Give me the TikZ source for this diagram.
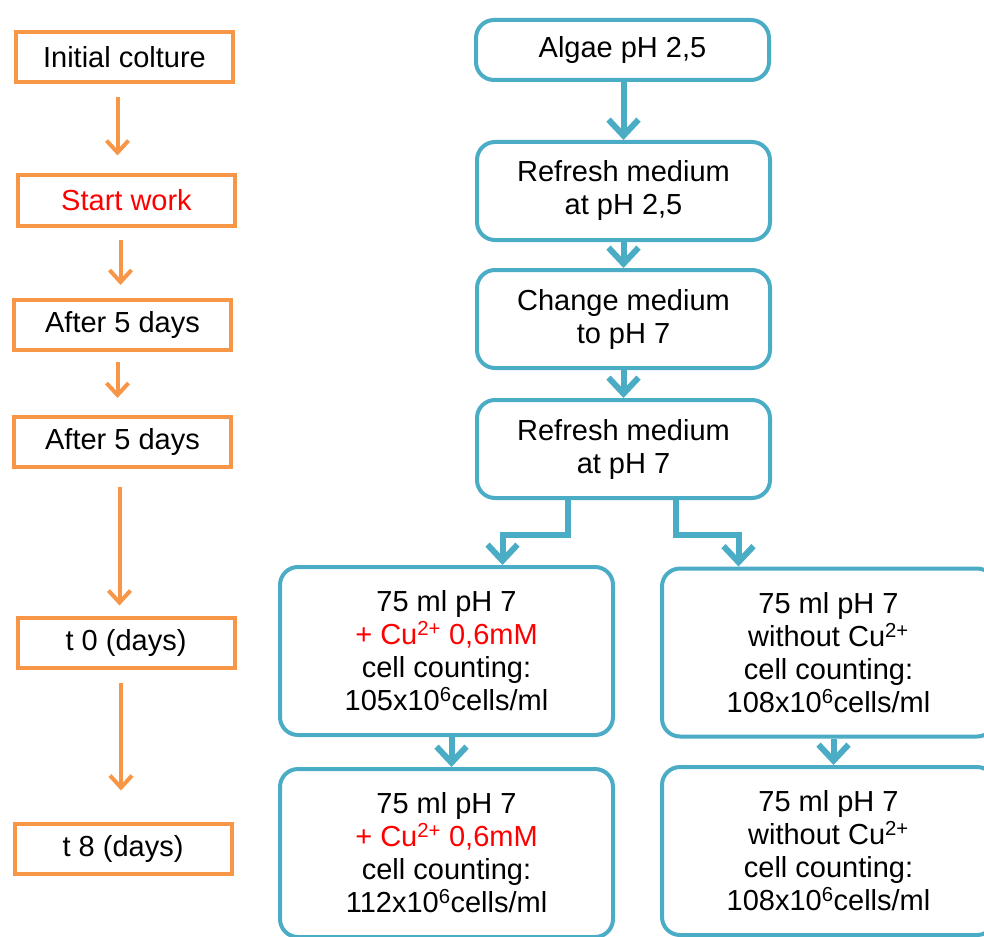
\documentclass[tikz,border=0pt]{standalone}
\usepackage{fontspec}
\setmainfont{Liberation Sans}
\usepackage{xcolor}
\usetikzlibrary{arrows.meta, positioning}
\definecolor{stepor}{HTML}{F79646}
\definecolor{flowbl}{HTML}{4BACC6}
\definecolor{cured}{HTML}{FF0000}

\begin{document}
\begin{tikzpicture}[
  x=1pt, y=-1pt,
  font=\fontsize{29}{33}\selectfont,
  daybox/.style={rectangle, draw=stepor, line width=4pt, fill=white,
                 minimum width=217pt, minimum height=50pt, inner sep=0pt},
  medbox/.style={rectangle, rounded corners=18pt, draw=flowbl, line width=4pt, fill=white,
                 minimum width=293pt, minimum height=98pt, align=center, inner sep=0pt},
  culbox/.style={medbox, minimum width=333pt, minimum height=168pt},
  oarrow/.style={-{Straight Barb[length=12pt, width=22pt]}, line width=4pt, color=stepor},
  barrow/.style={-{Straight Barb[length=16pt, width=30pt]}, line width=6pt, color=flowbl},
]
\useasboundingbox (0,0) rectangle (984,936);
\clip (0,0) rectangle (984,936);

% time line
\node[daybox] (init) at (124.5,57) {Initial colture};
\node[daybox, text=cured] (start) at (126.5,200.5) {Start work};
\node[daybox] (after1) at (122.5,325) {After 5 days};
\node[daybox] (after2) at (122.5,442) {After 5 days};
\node[daybox] (tzero) at (126,642.5) {t 0 (days)};
\node[daybox] (teight) at (123,848.5) {t 8 (days)};

\draw[oarrow, shorten <=13pt, shorten >=18pt] ([xshift=-7pt]init.south) -- ([xshift=-7pt]init.south |- start.north);
\draw[oarrow, shorten <=12pt, shorten >=13pt] ([xshift=-6pt]start.south) -- ([xshift=-6pt]start.south |- after1.north);
\draw[oarrow, shorten <=10pt, shorten >=17pt] ([xshift=-5pt]after1.south) -- ([xshift=-5pt]after1.south |- after2.north);
\draw[oarrow, shorten <=18pt, shorten >=10pt] ([xshift=-3pt]after2.south) -- ([xshift=-3pt]after2.south |- tzero.north);
\draw[oarrow, shorten <=13pt, shorten >=31pt] ([xshift=-5pt]tzero.south) -- ([xshift=-5pt]tzero.south |- teight.north);

% culture steps
\node[medbox, minimum height=60pt] (algae) at (622.5,50) {Algae pH 2,5};
\node[medbox] (refresh1) at (623.5,191) {Refresh medium\\at pH 2,5};
\node[medbox] (change) at (623.5,319) {Change medium\\to pH 7};
\node[medbox] (refresh2) at (623.5,449) {Refresh medium\\at pH 7};

\node[culbox] (cuzero) at (446.5,651) {75 ml pH 7\\\textcolor{cured}{+ Cu\textsuperscript{2+} 0,6mM}\\cell counting:\\105x10\textsuperscript{6}cells/ml};
\node[culbox] (nozero) at (828.5,652.5) {75 ml pH 7\\without Cu\textsuperscript{2+}\\cell counting:\\108x10\textsuperscript{6}cells/ml};
\node[culbox] (cueight) at (446.5,853) {75 ml pH 7\\\textcolor{cured}{+ Cu\textsuperscript{2+} 0,6mM}\\cell counting:\\112x10\textsuperscript{6}cells/ml};
\node[culbox] (noeight) at (828.5,851) {75 ml pH 7\\without Cu\textsuperscript{2+}\\cell counting:\\108x10\textsuperscript{6}cells/ml};

\draw[barrow] ([xshift=1pt]algae.south) -- ([xshift=1pt]algae.south |- refresh1.north);
\draw[barrow] (refresh1) -- (change);
\draw[barrow] (change) -- (refresh2);
\draw[barrow] ([xshift=-56pt]refresh2.south) -- ++(0,35) -| ([xshift=56pt]cuzero.north);
\draw[barrow] ([xshift=52pt]refresh2.south) -- ++(0,35) -| ([xshift=-90pt]nozero.north);
\draw[barrow] ([xshift=5pt]cuzero.south) -- ([xshift=5pt]cuzero.south |- cueight.north);
\draw[barrow] ([xshift=5pt]nozero.south) -- ([xshift=5pt]nozero.south |- noeight.north);
\end{tikzpicture}
\end{document}
